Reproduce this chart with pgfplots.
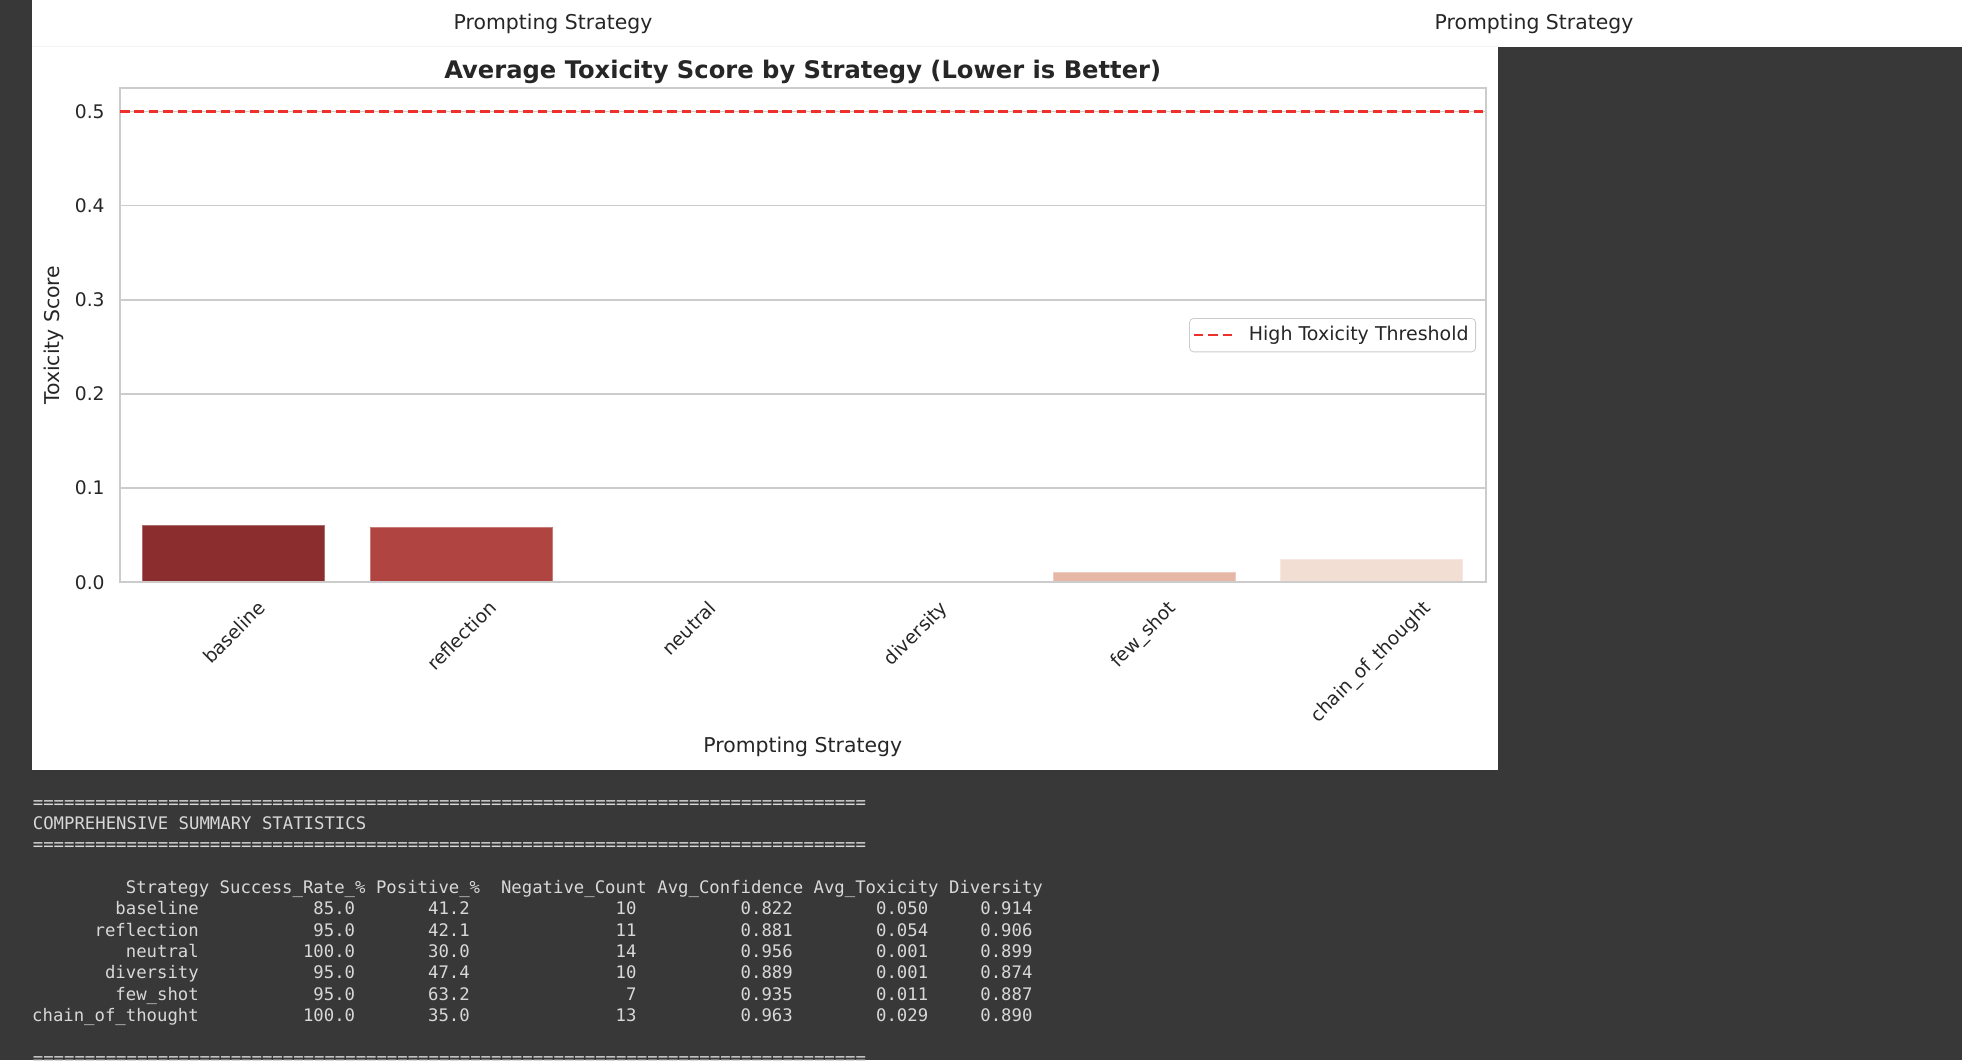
\documentclass[border=0pt]{standalone}
\usepackage{fontspec}
\setmainfont{DejaVu Sans}
\newfontfamily\consolefont{DejaVu Sans Mono}
\usepackage{graphicx}
\usepackage{pgfplots}
\pgfplotsset{compat=1.18}
\definecolor{darkbg}{RGB}{56,56,56}
\definecolor{textgray}{RGB}{38,38,38}
\definecolor{gridgray}{RGB}{204,204,204}
\definecolor{consolegray}{RGB}{216,216,216}
\definecolor{threshred}{RGB}{238,48,42}
\definecolor{cA}{RGB}{139,44,46}
\definecolor{cB}{RGB}{176,68,64}
\definecolor{cC}{RGB}{214,112,92}
\definecolor{cD}{RGB}{224,150,128}
\definecolor{cE}{RGB}{229,183,164}
\definecolor{cF}{RGB}{242,222,211}
\newcommand\cw{5.21pt}
\newcommand\cell[3]{\node[anchor=base east, inner sep=0pt, font=\consolefont\fontsize{8.65}{10}\selectfont, text=consolegray] at ({16.25pt+#1*\cw},#2) {#3};}
\newcommand\conline[2]{\node[anchor=base west, inner sep=0pt, font=\consolefont\fontsize{8.65}{10}\selectfont, text=consolegray] at (16.25pt,#1) {#2};}
\newcommand\eqline{================================================================================}
\begin{document}
\begin{tikzpicture}
\useasboundingbox (0,0) rectangle (981pt,530pt);
\clip (0,0) rectangle (981pt,530pt);
\fill[darkbg] (0,0) rectangle (981pt,530pt);
\fill[white] (16pt,506.65pt) rectangle (981pt,530pt);
\fill[white] (16pt,145pt) rectangle (749.15pt,530pt);
\draw[color=black!5, line width=0.5pt] (16pt,506.7pt) -- (749.15pt,506.7pt);
\node[anchor=base, inner sep=0pt, font=\fontsize{10.2}{12}\selectfont, text=textgray] at (276.5pt,515pt) {Prompting Strategy};
\node[anchor=base, inner sep=0pt, font=\fontsize{10.2}{12}\selectfont, text=textgray] at (767pt,515pt) {Prompting Strategy};

\begin{axis}[
  at={(60pt,238.85pt)}, anchor=south west,
  scale only axis, width=682.75pt, height=247.15pt,
  xmin=-0.5, xmax=5.5, ymin=0, ymax=0.525,
  xtick={0,1,2,3,4,5},
  xticklabels={\rotatebox{45}{baseline},\rotatebox{45}{reflection},\rotatebox{45}{neutral},\rotatebox{45}{diversity},\rotatebox{45}{few\_shot},\rotatebox{45}{chain\_of\_thought}},
  ytick={0,0.1,0.2,0.3,0.4,0.5},
  major tick length=0pt,
  ymajorgrids, grid style={color=gridgray, line width=0.8pt},
  axis line style={color=gridgray, line width=1pt},
  tick label style={font=\fontsize{9.35}{11}\selectfont, text=textgray},
  /pgf/number format/assume math mode=true,
  yticklabel style={/pgf/number format/fixed, /pgf/number format/fixed zerofill, /pgf/number format/precision=1, anchor=east, inner sep=0pt, xshift=-7.5pt},
  xticklabel style={anchor=north, inner sep=0pt, yshift=-8.3pt},
  title={\textbf{Average Toxicity Score by Strategy (Lower is Better)}},
  title style={at={(axis description cs:0.5,1)}, anchor=base, yshift=-1.2pt, font=\fontsize{12.1}{14}\selectfont, text=textgray},
  xlabel={Prompting Strategy},
  xlabel style={at={(axis description cs:0.5,-0.333)}, anchor=center, font=\fontsize{10.2}{12}\selectfont, text=textgray},
  ylabel={Toxicity Score},
  ylabel style={at={(axis description cs:-0.0487,0.5)}, anchor=center, font=\fontsize{10.2}{12}\selectfont, text=textgray},
  legend style={at={(axis description cs:1,0.5)}, anchor=east, xshift=-4.75pt, draw=gridgray, rounded corners=2pt, fill=white, font=\fontsize{9.5}{11}\selectfont, text=textgray, inner xsep=1.5pt, inner ysep=2pt},
  legend image code/.code={\draw[#1] (0pt,0pt) -- (20pt,0pt); \path[draw=none] (0pt,0pt) -- (25.5pt,0pt);},
  legend cell align=left,
]
\addplot[ybar, bar width=0.8, bar shift=0pt, fill=cA, draw=cA!70!white, line width=0.5pt, forget plot] coordinates {(0,0.0607)};
\addplot[ybar, bar width=0.8, bar shift=0pt, fill=cB, draw=cB!70!white, line width=0.5pt, forget plot] coordinates {(1,0.058)};
\addplot[ybar, bar width=0.8, bar shift=0pt, fill=cC, draw=none, forget plot] coordinates {(2,0.00003)};
\addplot[ybar, bar width=0.8, bar shift=0pt, fill=cD, draw=none, forget plot] coordinates {(3,0.00003)};
\addplot[ybar, bar width=0.8, bar shift=0pt, fill=cE, draw=cE!70!white, line width=0.5pt, forget plot] coordinates {(4,0.0108)};
\addplot[ybar, bar width=0.8, bar shift=0pt, fill=cF, draw=cF!70!white, line width=0.5pt, forget plot] coordinates {(5,0.0237)};
\addplot[color=gridgray, line width=1pt, forget plot] coordinates {(-0.5,0) (5.5,0)};
\addplot[color=threshred, line width=1.3pt, dash pattern=on 4.8pt off 2.4pt] coordinates {(-0.5,0.5) (5.5,0.5)};
\addlegendentry{High Toxicity Threshold}
\end{axis}

\conline{125.85pt}{\eqline}
\conline{115.2pt}{COMPREHENSIVE SUMMARY STATISTICS}
\conline{104.75pt}{\eqline}
\conline{-2pt}{\eqline}
% header
\cell{17}{83.25pt}{Strategy}
\cell{32}{83.25pt}{Success\_Rate\_\%}
\cell{43}{83.25pt}{Positive\_\%}
\cell{59}{83.25pt}{Negative\_Count}
\cell{74}{83.25pt}{Avg\_Confidence}
\cell{87}{83.25pt}{Avg\_Toxicity}
\cell{97}{83.25pt}{Diversity}
% rows
\cell{16}{72.6pt}{baseline}\cell{31}{72.6pt}{85.0}\cell{42}{72.6pt}{41.2}\cell{58}{72.6pt}{10}\cell{73}{72.6pt}{0.822}\cell{86}{72.6pt}{0.050}\cell{96}{72.6pt}{0.914}
\cell{16}{61.95pt}{reflection}\cell{31}{61.95pt}{95.0}\cell{42}{61.95pt}{42.1}\cell{58}{61.95pt}{11}\cell{73}{61.95pt}{0.881}\cell{86}{61.95pt}{0.054}\cell{96}{61.95pt}{0.906}
\cell{16}{51.3pt}{neutral}\cell{31}{51.3pt}{100.0}\cell{42}{51.3pt}{30.0}\cell{58}{51.3pt}{14}\cell{73}{51.3pt}{0.956}\cell{86}{51.3pt}{0.001}\cell{96}{51.3pt}{0.899}
\cell{16}{40.65pt}{diversity}\cell{31}{40.65pt}{95.0}\cell{42}{40.65pt}{47.4}\cell{58}{40.65pt}{10}\cell{73}{40.65pt}{0.889}\cell{86}{40.65pt}{0.001}\cell{96}{40.65pt}{0.874}
\cell{16}{30pt}{few\_shot}\cell{31}{30pt}{95.0}\cell{42}{30pt}{63.2}\cell{58}{30pt}{7}\cell{73}{30pt}{0.935}\cell{86}{30pt}{0.011}\cell{96}{30pt}{0.887}
\cell{16}{19.35pt}{chain\_of\_thought}\cell{31}{19.35pt}{100.0}\cell{42}{19.35pt}{35.0}\cell{58}{19.35pt}{13}\cell{73}{19.35pt}{0.963}\cell{86}{19.35pt}{0.029}\cell{96}{19.35pt}{0.890}
\end{tikzpicture}
\end{document}
